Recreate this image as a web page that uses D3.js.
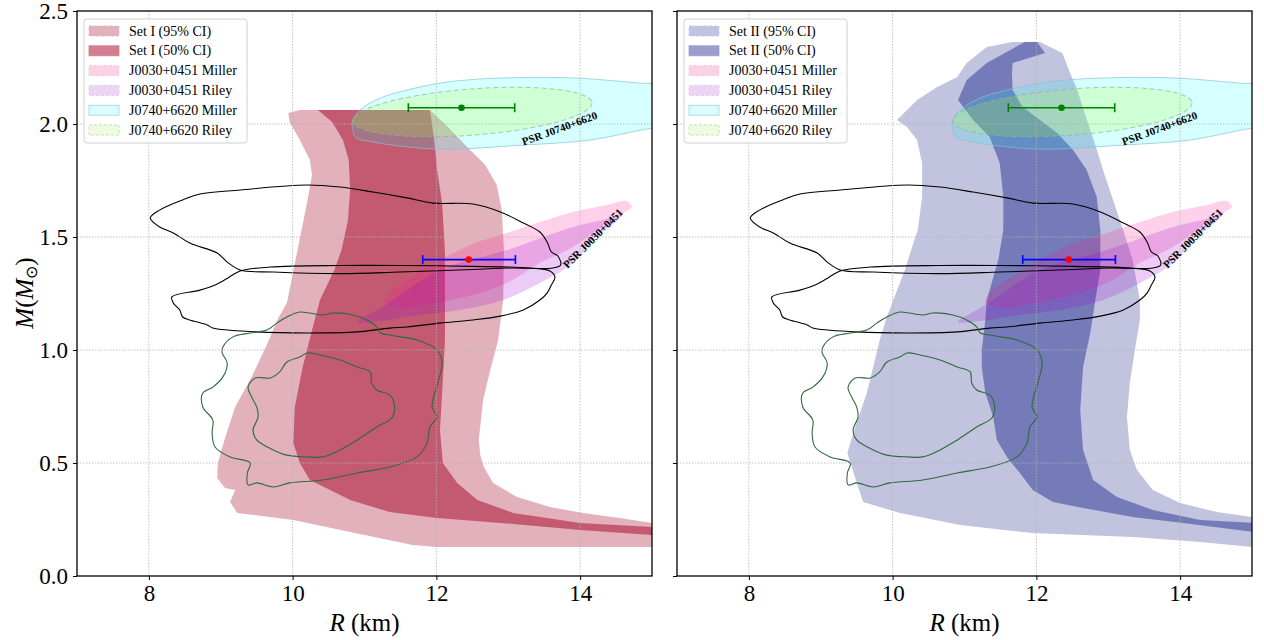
<!DOCTYPE html>
<html><head><meta charset="utf-8">
<script src="https://cdn.jsdelivr.net/npm/d3@7"></script>
<style>
body{margin:0;background:#fff;}
svg{display:block;}
svg text{font-family:"Liberation Serif","Times New Roman",serif;}
</style></head><body>
<svg id="chart" width="1264" height="640"></svg>
<script>
// ---------------- data (R in km, M in solar masses) ----------------
const xTicks = [8, 10, 12, 14];
const yTicks = [0, 0.5, 1.0, 1.5, 2.0, 2.5];

// Set I posterior bands
const setI95 = [[9.94,2.049],[10.10,2.062],[11.91,2.062],[12.12,2.0],[12.40,1.907],[12.68,1.819],[12.84,1.730],[12.91,1.619],[12.94,1.442],[12.93,1.221],[12.86,1.044],[12.75,0.912],[12.65,0.779],[12.59,0.602],[12.61,0.535],[12.66,0.482],[12.79,0.412],[13.12,0.350],[13.58,0.305],[14.04,0.279],[14.55,0.257],[15.0,0.235],[15.0,0.128],[12.01,0.128],[11.67,0.137],[10.80,0.195],[10.01,0.248],[9.23,0.279],[9.13,0.327],[9.20,0.381],[9.06,0.389],[8.95,0.434],[8.96,0.500],[9.06,0.611],[9.20,0.748],[9.43,0.881],[9.64,1.022],[9.80,1.142],[9.92,1.208],[10.06,1.429],[10.20,1.650],[10.27,1.774],[10.24,1.841],[10.10,1.929],[9.96,2.009]];
const setI50 = [[10.35,2.062],[11.91,2.062],[11.97,1.929],[12.01,1.796],[12.08,1.650],[12.12,1.429],[12.12,1.044],[12.09,0.867],[12.05,0.646],[12.09,0.500],[12.29,0.412],[12.57,0.336],[13.07,0.279],[14.00,0.235],[15.0,0.217],[15.0,0.181],[14.0,0.204],[12.89,0.235],[12.01,0.257],[11.35,0.283],[10.80,0.336],[10.24,0.425],[10.10,0.500],[10.01,0.588],[10.03,0.748],[10.14,0.925],[10.26,1.075],[10.38,1.221],[10.58,1.354],[10.68,1.442],[10.77,1.575],[10.80,1.708],[10.78,1.841],[10.70,1.929],[10.55,2.009]];

// Set II posterior bands
const setII95 = [[11.67,2.363],[12.05,2.363],[12.36,2.314],[12.47,2.226],[12.57,2.150],[12.68,2.040],[12.82,1.907],[12.95,1.774],[13.09,1.642],[13.23,1.509],[13.34,1.398],[13.44,1.221],[13.44,1.133],[13.37,1.0],[13.30,0.854],[13.26,0.704],[13.30,0.558],[13.40,0.469],[13.62,0.381],[14.0,0.323],[14.51,0.283],[15.01,0.261],[15.01,0.128],[14.28,0.150],[13.34,0.173],[11.95,0.190],[10.94,0.226],[10.10,0.279],[9.59,0.327],[9.52,0.394],[9.37,0.544],[9.48,0.659],[9.64,0.810],[9.73,0.925],[9.82,1.044],[9.92,1.146],[10.01,1.221],[10.17,1.354],[10.28,1.465],[10.35,1.531],[10.41,1.677],[10.41,1.827],[10.34,1.929],[10.20,1.987],[10.06,2.018],[10.34,2.106],[10.62,2.164],[10.90,2.208],[11.03,2.270],[11.31,2.341]];
const setII50 = [[11.84,2.363],[11.31,2.270],[11.03,2.195],[10.91,2.106],[11.12,2.018],[11.35,1.942],[11.49,1.827],[11.54,1.677],[11.54,1.531],[11.47,1.398],[11.35,1.265],[11.31,1.221],[11.29,1.133],[11.24,1.0],[11.24,0.925],[11.29,0.810],[11.40,0.704],[11.45,0.602],[11.59,0.527],[11.77,0.456],[11.95,0.381],[12.23,0.327],[12.65,0.301],[13.34,0.261],[14.04,0.235],[15.01,0.195],[15.01,0.235],[14.28,0.248],[13.62,0.292],[13.12,0.350],[12.79,0.425],[12.65,0.558],[12.61,0.735],[12.65,0.925],[12.75,1.075],[12.82,1.221],[12.89,1.354],[12.89,1.531],[12.84,1.677],[12.70,1.796],[12.51,1.885],[12.29,1.960],[12.05,2.018],[11.81,2.075],[11.67,2.150],[11.66,2.226],[11.67,2.270],[12.12,2.314],[12.01,2.363]];

// NICER constraints
const j0030Miller = [[11.35,1.252],[11.81,1.354],[12.47,1.465],[12.98,1.518],[13.44,1.566],[13.90,1.611],[14.37,1.642],[14.65,1.659],[14.72,1.633],[14.62,1.611],[14.37,1.562],[13.90,1.456],[13.44,1.385],[12.98,1.296],[12.51,1.243],[12.05,1.212],[11.56,1.186],[11.29,1.208]];
const j0030Riley = [[10.91,1.124],[11.29,1.199],[12.05,1.354],[12.98,1.442],[13.90,1.544],[14.46,1.588],[14.58,1.611],[14.55,1.584],[14.18,1.487],[13.90,1.385],[13.44,1.296],[12.93,1.221],[12.33,1.177],[11.77,1.155],[11.22,1.128]];
const j0740Miller = [[10.83,2.009],[10.94,2.062],[11.22,2.115],[11.59,2.150],[12.05,2.181],[12.43,2.195],[12.98,2.204],[13.90,2.204],[14.83,2.181],[15.67,2.159],[15.67,2.0],[15.01,1.982],[14.14,1.929],[13.21,1.907],[12.01,1.889],[11.12,1.920],[10.87,1.942],[10.84,1.973]];
// J0740+6620 Riley region: centre, semi-axes (km, Msun) and tilt
const j0740Riley = {R: 12.50, M: 2.053, dR: 1.67, dM: 0.102, tilt: -4.4};

// point estimates with radius error bars
const j0030Point = {R: 12.45, M: 1.40, lo: 11.81, hi: 13.10};
const j0740Point = {R: 12.35, M: 2.072, lo: 11.61, hi: 13.09};

// GW-inferred contours (black) and low-mass contours (green)
const gwUpper = [[8.02,1.584],[8.15,1.619],[8.47,1.664],[8.71,1.690],[9.27,1.708],[10.20,1.730],[10.66,1.721],[11.12,1.699],[11.59,1.673],[11.95,1.650],[12.51,1.646],[12.89,1.611],[13.21,1.562],[13.44,1.522],[13.54,1.478],[13.60,1.434],[13.69,1.416],[13.73,1.376],[13.62,1.363],[13.02,1.363],[12.51,1.356],[11.49,1.345],[10.66,1.338],[9.73,1.345],[9.27,1.354],[9.09,1.389],[8.95,1.429],[8.57,1.473],[8.34,1.518],[8.15,1.544]];
const gwLower = [[8.32,1.235],[8.71,1.265],[8.92,1.288],[9.10,1.319],[9.27,1.350],[9.69,1.367],[10.66,1.374],[11.49,1.374],[12.51,1.370],[13.30,1.363],[13.58,1.350],[13.65,1.323],[13.60,1.288],[13.54,1.252],[13.44,1.221],[13.21,1.177],[12.89,1.150],[12.51,1.133],[12.05,1.119],[11.59,1.102],[11.35,1.097],[10.90,1.080],[10.20,1.075],[9.50,1.080],[8.89,1.097],[8.81,1.111],[8.57,1.133],[8.47,1.146],[8.43,1.177],[8.34,1.208]];
const greenOuter = [[10.10,1.168],[10.42,1.155],[10.56,1.164],[10.84,1.155],[11.03,1.133],[11.17,1.102],[11.22,1.075],[11.35,1.066],[11.73,1.044],[12.01,1.0],[12.08,0.942],[12.02,0.854],[11.94,0.748],[12.01,0.704],[11.91,0.659],[11.87,0.588],[11.73,0.527],[11.35,0.482],[10.90,0.456],[10.42,0.425],[9.96,0.412],[9.73,0.394],[9.50,0.412],[9.38,0.403],[9.37,0.456],[9.41,0.500],[9.13,0.527],[8.92,0.571],[8.88,0.633],[8.89,0.690],[8.75,0.748],[8.75,0.810],[8.89,0.836],[9.03,0.881],[9.09,0.942],[9.02,0.987],[9.03,1.013],[9.17,1.058],[9.41,1.075],[9.64,1.088],[9.78,1.119],[9.92,1.146]];
const greenInner = [[10.10,0.969],[10.20,0.987],[10.38,0.978],[10.66,0.956],[10.90,0.925],[11.08,0.903],[11.10,0.854],[11.17,0.823],[11.35,0.801],[11.42,0.748],[11.38,0.699],[11.17,0.659],[10.90,0.602],[10.66,0.558],[10.42,0.527],[10.20,0.527],[9.92,0.535],[9.73,0.558],[9.50,0.602],[9.45,0.646],[9.52,0.704],[9.50,0.748],[9.43,0.792],[9.38,0.836],[9.48,0.876],[9.69,0.876],[9.82,0.903],[9.92,0.947]];

const panels = [
  {left: 77,  name: "Set I",  b95: setI95,  b50: setI50,  c95: "#e3b1bc", c50: "#c45a72", k95: "#e3b1bc", k50: "#d27d90", yLabels: true},
  {left: 677, name: "Set II", b95: setII95, b50: setII50, c95: "#c2c3df", c50: "#757ab8", k95: "#c2c3df", k50: "#9b9ecc", yLabels: false}
];

// ---------------- drawing ----------------
const svg = d3.select("#chart");
const PW = 575, TOP = 11, BOTTOM = 576;
const SERIF = "'Liberation Serif', 'Times New Roman', serif";

panels.forEach((p, i) => {
  const x = d3.scaleLinear().domain([7, 15]).range([p.left, p.left + PW]);
  const y = d3.scaleLinear().domain([0, 2.5]).range([BOTTOM, TOP]);
  const g = svg.append("g");
  const clipId = "clip" + i;
  svg.append("clipPath").attr("id", clipId).append("rect")
    .attr("x", p.left).attr("y", TOP).attr("width", PW).attr("height", BOTTOM - TOP);
  const plot = g.append("g").attr("clip-path", `url(#${clipId})`);

  const poly = d3.line().x(d => x(d[0])).y(d => y(d[1])).curve(d3.curveLinearClosed);
  const smooth = d3.line().x(d => x(d[0])).y(d => y(d[1])).curve(d3.curveCatmullRomClosed.alpha(0.5));

  // posterior bands
  plot.append("path").attr("d", poly(p.b95)).attr("fill", p.c95);
  plot.append("path").attr("d", poly(p.b50)).attr("fill", p.c50);

  // J0030+0451
  plot.append("path").attr("d", smooth(j0030Miller)).attr("fill", "rgb(255,20,147)").attr("fill-opacity", 0.2);
  plot.append("path").attr("d", smooth(j0030Riley)).attr("fill", "rgb(148,0,211)").attr("fill-opacity", 0.2);

  // J0740+6620
  plot.append("path").attr("d", smooth(j0740Miller)).attr("fill", "rgb(0,255,255)").attr("fill-opacity", 0.16)
    .attr("stroke", "#7fc6cf").attr("stroke-opacity", 0.7).attr("stroke-width", 1);
  const ecx = x(j0740Riley.R), ecy = y(j0740Riley.M);
  plot.append("ellipse").attr("cx", ecx).attr("cy", ecy)
    .attr("rx", x(j0740Riley.R + j0740Riley.dR) - ecx)
    .attr("ry", ecy - y(j0740Riley.M + j0740Riley.dM))
    .attr("transform", `rotate(${j0740Riley.tilt},${ecx},${ecy})`)
    .attr("fill", "rgb(173,255,47)").attr("fill-opacity", 0.2)
    .attr("stroke", "#8fb48f").attr("stroke-opacity", 0.7).attr("stroke-dasharray", "5,3").attr("stroke-width", 1);

  // contours
  [gwUpper, gwLower].forEach(c => plot.append("path").attr("d", smooth(c)).attr("fill", "none").attr("stroke", "#000").attr("stroke-width", 1.1));
  [greenOuter, greenInner].forEach(c => plot.append("path").attr("d", smooth(c)).attr("fill", "none").attr("stroke", "#2f6a3c").attr("stroke-width", 1.1));

  // grid
  const grid = g.append("g").attr("stroke", "#b3b3b3").attr("stroke-width", 0.8).attr("stroke-dasharray", "1.5,1.5");
  xTicks.forEach(t => grid.append("line").attr("x1", x(t)).attr("x2", x(t)).attr("y1", TOP).attr("y2", BOTTOM));
  yTicks.filter(t => t > 0 && t < 2.5).forEach(t => grid.append("line").attr("x1", p.left).attr("x2", p.left + PW).attr("y1", y(t)).attr("y2", y(t)));

  // error bars
  function errBar(pt, lineCol, dotCol) {
    const yy = y(pt.M);
    const eb = g.append("g");
    eb.append("line").attr("x1", x(pt.lo)).attr("x2", x(pt.hi)).attr("y1", yy).attr("y2", yy).attr("stroke", lineCol).attr("stroke-width", 1.6);
    [pt.lo, pt.hi].forEach(v => eb.append("line").attr("x1", x(v)).attr("x2", x(v)).attr("y1", yy - 4.5).attr("y2", yy + 4.5).attr("stroke", lineCol).attr("stroke-width", 1.6));
    eb.append("circle").attr("cx", x(pt.R)).attr("cy", yy).attr("r", 3.3).attr("fill", dotCol);
  }
  errBar(j0740Point, "#008000", "#008000");
  errBar(j0030Point, "#0000ff", "#ff0000");

  // pulsar labels
  g.append("text").attr("transform", `translate(${x(13.72)},${y(1.975)}) rotate(-20)`)
    .attr("text-anchor", "middle").attr("dominant-baseline", "middle")
    .style("font-size", "11px").style("font-weight", "bold").text("PSR J0740+6620");
  g.append("text").attr("transform", `translate(${x(14.19)},${y(1.49)}) rotate(-45)`)
    .attr("text-anchor", "middle").attr("dominant-baseline", "middle")
    .style("font-size", "11px").style("font-weight", "bold").text("PSR J0030+0451");

  // axes
  const xa = g.append("g").attr("transform", `translate(0,${BOTTOM})`)
    .call(d3.axisBottom(x).tickValues(xTicks).tickSize(4).tickPadding(5).tickFormat(d3.format("d")));
  const ya = g.append("g").attr("transform", `translate(${p.left},0)`)
    .call(d3.axisLeft(y).tickValues(yTicks).tickSize(4).tickPadding(5).tickFormat(p.yLabels ? d3.format(".1f") : () => ""));
  [xa, ya].forEach(a => {
    a.attr("font-family", null).attr("font-size", null);
    a.select(".domain").remove();
    a.selectAll("text").style("font-family", SERIF).style("font-size", "23px").attr("fill", "#000");
    a.selectAll("line").attr("stroke", "#000").attr("stroke-width", 1);
  });

  // frame
  g.append("rect").attr("x", p.left).attr("y", TOP).attr("width", PW).attr("height", BOTTOM - TOP)
    .attr("fill", "none").attr("stroke", "#000").attr("stroke-width", 1.3);

  // x label
  const xl = g.append("text").attr("x", p.left + PW / 2).attr("y", 631).attr("text-anchor", "middle").style("font-size", "25px");
  xl.append("tspan").style("font-style", "italic").text("R");
  xl.append("tspan").text(" (km)");

  // legend
  const lg = g.append("g").attr("transform", `translate(${p.left + 7},19)`);
  lg.append("rect").attr("width", 163).attr("height", 124).attr("rx", 3)
    .attr("fill", "#fff").attr("fill-opacity", 0.85).attr("stroke", "#d0d0d0").attr("stroke-width", 1);
  const entries = [
    {label: `${p.name} (95% CI)`, fill: p.k95, stroke: p.k95, dash: "3,2"},
    {label: `${p.name} (50% CI)`, fill: p.k50, stroke: p.k50, dash: null},
    {label: "J0030+0451 Miller", fill: "#fad2e6", stroke: "#f6c3dc", dash: "3,2"},
    {label: "J0030+0451 Riley", fill: "#ecd4f3", stroke: "#e2c2ee", dash: "3,2"},
    {label: "J0740+6620 Miller", fill: "#dafcfc", stroke: "#9fd6db", dash: null},
    {label: "J0740+6620 Riley", fill: "#eefbdf", stroke: "#b9d8b0", dash: "3,2"}
  ];
  entries.forEach((e, k) => {
    const cy = 12 + k * 19.8;
    lg.append("rect").attr("x", 5).attr("y", cy - 5).attr("width", 30).attr("height", 10)
      .attr("fill", e.fill).attr("stroke", e.stroke).attr("stroke-width", 0.8).attr("stroke-dasharray", e.dash);
    lg.append("text").attr("x", 45).attr("y", cy).attr("dominant-baseline", "central").style("font-size", "14px").text(e.label);
  });
});

// y label
const yl = svg.append("text").attr("transform", "translate(33,293) rotate(-90)").attr("text-anchor", "middle").style("font-size", "25px");
yl.append("tspan").style("font-style", "italic").text("M");
yl.append("tspan").text("(");
yl.append("tspan").style("font-style", "italic").text("M");
yl.append("tspan").style("font-size", "16px").attr("dy", 4).text("⊙");
yl.append("tspan").attr("dy", -4).text(")");
</script>
</body></html>
